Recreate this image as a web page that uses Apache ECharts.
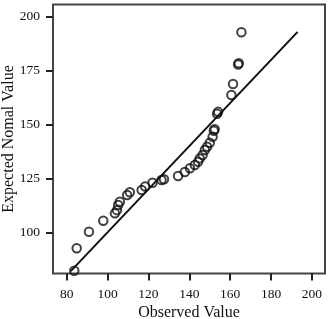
<!DOCTYPE html>
<html>
<head>
<meta charset="utf-8">
<style>html,body{margin:0;padding:0;background:#fff}#c{width:335px;height:319px}</style>
<script src="https://cdn.jsdelivr.net/npm/echarts@6/dist/echarts.min.js"></script>
</head>
<body>
<div id="c"></div>
<script>
const observed = [83.7, 84.9, 90.9, 97.9, 103.6, 104.6, 105.2, 106.0, 109.6, 110.9, 116.7, 118.4, 122.0, 126.4, 127.6, 134.5, 137.8, 140.3, 142.7, 144.3, 145.1, 146.5, 147.6, 148.7, 150.0, 151.4, 152.0, 152.4, 153.6, 154.1, 160.6, 161.4, 163.9, 164.2, 165.5];
const expected = [82.2, 92.6, 100.3, 105.4, 108.8, 110.3, 112.7, 114.2, 117.3, 118.6, 119.6, 121.3, 123.0, 124.3, 124.6, 126.1, 128.0, 129.7, 131.2, 132.7, 134.3, 135.9, 138.2, 139.7, 141.6, 144.3, 147.1, 147.8, 155.0, 155.9, 163.7, 168.8, 177.9, 178.5, 192.8];
const refLineX = [82, 193];
const refLineY = [82, 193];
const xTicks = [80, 100, 120, 140, 160, 180, 200];
const yTicks = [100, 125, 150, 175, 200];

const points = observed.map((v, i) => [v, expected[i]]);
const line = refLineX.map((v, i) => [v, refLineY[i]]);
const font = '"Liberation Serif", "DejaVu Serif", serif';

const chart = echarts.init(document.getElementById('c'), null, {renderer: 'canvas'});
chart.setOption({
  animation: false,
  grid: {left: 53, right: 10, top: 4.5, bottom: 45.5, outerBoundsMode: 'none', containLabel: false, show: true, borderColor: '#444', borderWidth: 2, backgroundColor: 'transparent'},
  xAxis: {
    type: 'value', min: 73.3, max: 206.4,
    name: 'Observed Value', nameLocation: 'middle', nameGap: 31, nameMoveOverlap: false,
    nameTextStyle: {fontFamily: font, fontSize: 16, color: '#111'},
    axisLine: {show: false},
    splitLine: {show: false},
    axisTick: {show: true, length: 7, lineStyle: {color: '#222', width: 2}, customValues: xTicks},
    axisLabel: {fontFamily: font, fontSize: 13.5, color: '#111', margin: 14, customValues: xTicks}
  },
  yAxis: {
    type: 'value', min: 80.9, max: 205.7,
    name: 'Expected Nomal Value', nameLocation: 'middle', nameGap: 36, nameMoveOverlap: false,
    nameTextStyle: {fontFamily: font, fontSize: 16, color: '#111'},
    axisLine: {show: false},
    splitLine: {show: false},
    axisTick: {show: true, length: 7, lineStyle: {color: '#222', width: 2}, customValues: yTicks},
    axisLabel: {fontFamily: font, fontSize: 13.5, color: '#111', margin: 13, customValues: yTicks}
  },
  series: [
    {
      type: 'line', data: line, symbol: 'none', silent: true,
      lineStyle: {color: '#111', width: 2}
    },
    {
      type: 'scatter', data: points, symbol: 'circle', symbolSize: 8.5,
      itemStyle: {color: 'rgba(255,255,255,0)', borderColor: '#111', borderWidth: 2}
    }
  ]
});
</script>
</body>
</html>
